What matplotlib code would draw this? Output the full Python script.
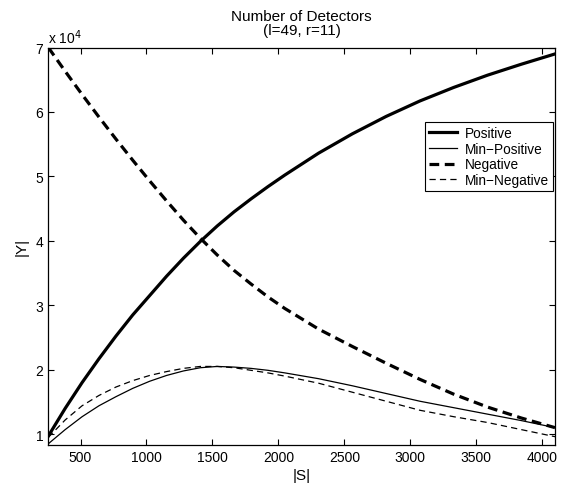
import matplotlib
matplotlib.use("Agg")
import matplotlib.pyplot as plt
from matplotlib.ticker import FuncFormatter, FixedLocator

plt.rcParams['font.family'] = ['Liberation Sans', 'DejaVu Sans']
plt.rcParams['lines.scale_dashes'] = False

S = [256, 384, 512, 640, 768, 896, 1024, 1152, 1280, 1408, 1536, 1664, 1792, 1920, 2048,
     2304, 2560, 2816, 3072, 3328, 3584, 3840, 4096]
positive = [0.97e4, 1.40e4, 1.80e4, 2.17e4, 2.52e4, 2.85e4, 3.15e4, 3.45e4, 3.73e4, 3.99e4, 4.23e4,
            4.45e4, 4.65e4, 4.84e4, 5.02e4, 5.36e4, 5.66e4, 5.93e4, 6.17e4, 6.38e4, 6.57e4, 6.74e4, 6.90e4]
min_positive = [0.85e4, 1.07e4, 1.27e4, 1.44e4, 1.58e4, 1.71e4, 1.82e4, 1.91e4, 1.98e4, 2.03e4, 2.05e4,
                2.04e4, 2.02e4, 1.99e4, 1.95e4, 1.86e4, 1.75e4, 1.63e4, 1.51e4, 1.41e4, 1.31e4, 1.21e4, 1.10e4]
negative = [7.00e4, 6.63e4, 6.27e4, 5.92e4, 5.58e4, 5.25e4, 4.93e4, 4.62e4, 4.32e4, 4.04e4, 3.78e4,
            3.54e4, 3.33e4, 3.13e4, 2.95e4, 2.63e4, 2.36e4, 2.10e4, 1.85e4, 1.62e4, 1.42e4, 1.25e4, 1.10e4]
min_negative = [0.95e4, 1.22e4, 1.44e4, 1.60e4, 1.73e4, 1.83e4, 1.91e4, 1.97e4, 2.02e4, 2.05e4, 2.05e4,
                2.03e4, 1.99e4, 1.95e4, 1.90e4, 1.79e4, 1.65e4, 1.51e4, 1.37e4, 1.27e4, 1.18e4, 1.07e4, 0.96e4]

xticks = [500, 1000, 1500, 2000, 2500, 3000, 3500, 4000]
yticks = [1e4, 2e4, 3e4, 4e4, 5e4, 6e4, 7e4]

fig = plt.figure(figsize=(5.62, 4.89), dpi=100)
ax = fig.add_axes([0.086, 0.0885, 0.9015, 0.8123])

ax.plot(S, positive, color='black', lw=2.3, label='Positive')
ax.plot(S, min_positive, color='black', lw=0.9, label='Min\u2212Positive')
ax.plot(S, negative, color='black', lw=2.3, dashes=(7, 4), label='Negative')
ax.plot(S, min_negative, color='black', lw=0.9, dashes=(4.5, 3), label='Min\u2212Negative')

ax.set_xlim(256, 4096)
ax.set_ylim(0.835e4, 7.0e4)
ax.xaxis.set_major_locator(FixedLocator(xticks))
ax.yaxis.set_major_locator(FixedLocator(yticks))
ax.yaxis.set_major_formatter(FuncFormatter(lambda v, p: f"{v/1e4:g}"))
ax.tick_params(direction='in', top=True, right=True, length=4, width=0.8, labelsize=10)
for sp in ax.spines.values():
    sp.set_linewidth(0.9)

ax.text(0.0, 1.004, r'x 10$^{4}$', transform=ax.transAxes, fontsize=10, ha='left', va='bottom')
ax.set_title('Number of Detectors\n(l=49, r=11)', fontsize=11, pad=10, linespacing=0.92)
ax.set_xlabel('|S|', fontsize=11, labelpad=3)
ax.set_ylabel('|Y|', fontsize=11, labelpad=5)

leg = ax.legend(loc='upper right', bbox_to_anchor=(0.996, 0.8125), borderaxespad=0,
                fontsize=9.8, handlelength=2.0, handletextpad=0.6, labelspacing=0.12,
                borderpad=0.3, fancybox=False, framealpha=1, edgecolor='black')
leg.get_frame().set_linewidth(0.8)

fig.savefig('out.png', dpi=100)
